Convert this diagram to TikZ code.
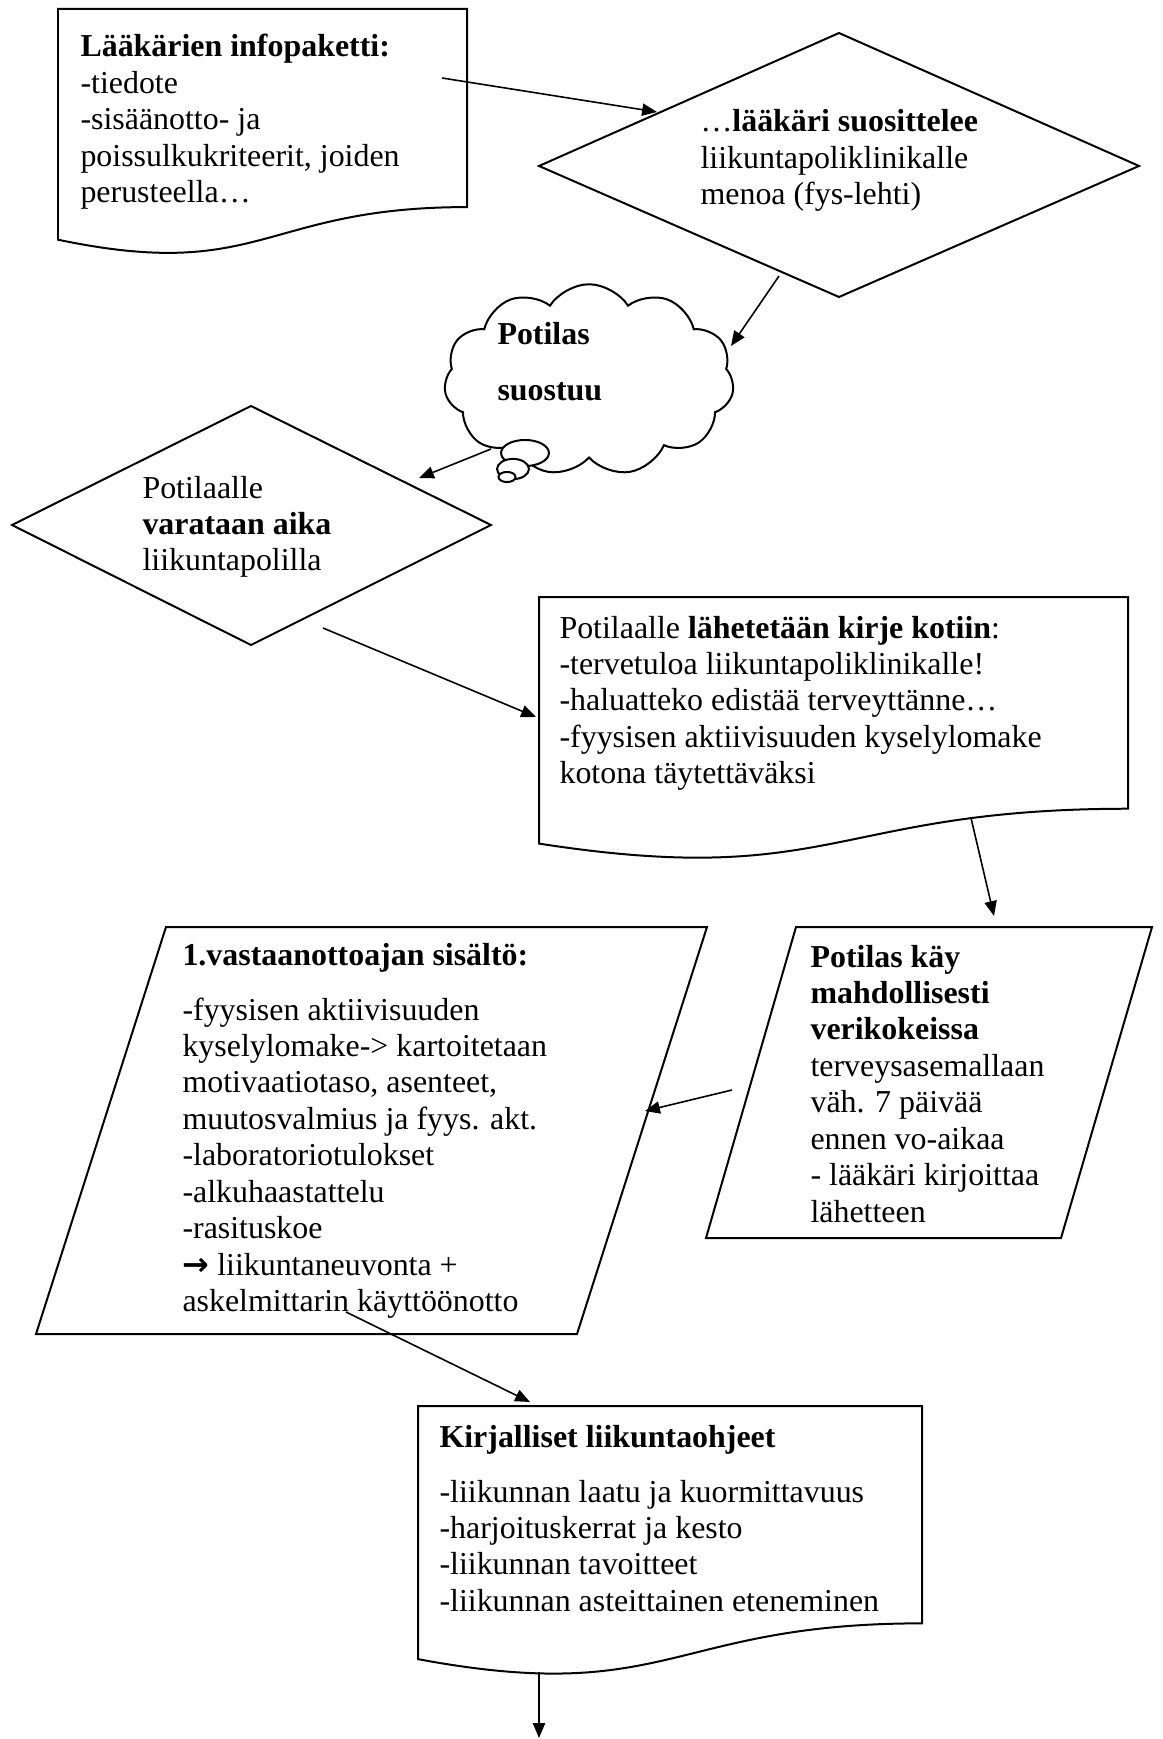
\documentclass[tikz,border=0pt]{standalone}
\usepackage{fontspec}
\setmainfont{Liberation Serif}
\newfontfamily\arrowfont{DejaVu Sans}
\usetikzlibrary{arrows.meta,shapes.symbols,shapes.geometric}
\newcommand\docshape[4]{%
  \draw[shapeline] (#1,#3) -- (#2,#3) -- (#2,{#3+0.802*#4})
    .. controls ({(#1+#2)/2},{#3+0.802*#4}) and ({(#1+#2)/2},{#3+1.1075*#4}) ..
    (#1,{#3+0.934*#4}) -- cycle;}
\begin{document}
\begin{tikzpicture}[x=0.376pt, y=-0.376pt,
  shapeline/.style={draw, line width=0.75pt, line join=miter},
  conn/.style={-{Triangle[length=5.6pt,width=4.6pt]}, line width=0.6pt},
  txt/.style={anchor=base west, inner sep=0pt, font=\fontsize{12pt}{13.7pt}\selectfont},
  bubble/.style={ellipse, draw, fill=white, line width=0.75pt, inner sep=0pt}]
\useasboundingbox (0,0) rectangle (1162,1739);

% --- shapes ---
\docshape{58}{467}{9}{247}
\draw[shapeline] (539,166) -- (839,33) -- (1139,166) -- (839,297) -- cycle;
\node[cloud, draw, line width=0.75pt, cloud puffs=11, cloud puff arc=115, aspect=1.7,
      cloud ignores aspect, minimum width=109pt, minimum height=72pt, inner sep=0pt]
      (cloud) at (589,380) {};
\node[bubble, minimum width=18pt, minimum height=9.8pt] (b1) at (525,453) {};
\node[bubble, minimum width=12pt, minimum height=7.6pt] (b2) at (513,469) {};
\node[bubble, minimum width=6.4pt, minimum height=3.8pt] (b3) at (507,477) {};
\draw[shapeline] (12,525) -- (251,406) -- (491,525) -- (251,645) -- cycle;
\docshape{539}{1128}{597}{264}
\draw[shapeline] (166,927) -- (707,927) -- (577,1334) -- (36,1334) -- cycle;
\draw[shapeline] (796,927) -- (1152,927) -- (1061,1238) -- (706,1238) -- cycle;
\docshape{418}{922}{1406}{271}

% --- texts ---
\node[txt] (t1) at (80,57) {\begin{tabular}[t]{@{}l@{}}
\textbf{Lääkärien infopaketti:}\\
-tiedote\\
-sisäänotto- ja\\
poissulkukriteerit, joiden\\
perusteella…\end{tabular}};

\node[txt] (t2) at (700,132) {\begin{tabular}[t]{@{}l@{}}
…\textbf{lääkäri suosittelee}\\
liikuntapoliklinikalle\\
menoa (fys-lehti)\end{tabular}};

\node[txt] (t3) at (497,345) {\begin{tabular}[t]{@{}l@{}}
\textbf{Potilas}\\[7pt]
\textbf{suostuu}\end{tabular}};

\node[txt] (t4) at (142,498) {\begin{tabular}[t]{@{}l@{}}
Potilaalle\\
\textbf{varataan aika}\\
liikuntapolilla\end{tabular}};

\node[txt] (t5) at (559,638) {\begin{tabular}[t]{@{}l@{}}
Potilaalle \textbf{lähetetään kirje kotiin}:\\
-tervetuloa liikuntapoliklinikalle!\\
-haluatteko edistää terveyttänne…\\
-fyysisen aktiivisuuden kyselylomake\\
kotona täytettäväksi\end{tabular}};

\node[txt] (t6) at (182,965) {\begin{tabular}[t]{@{}l@{}}
\textbf{1.vastaanottoajan sisältö:}\\[7pt]
-fyysisen aktiivisuuden\\
kyselylomake-> kartoitetaan\\
motivaatiotaso, asenteet,\\
muutosvalmius ja fyys. akt.\\
-laboratoriotulokset\\
-alkuhaastattelu\\
-rasituskoe\\
{\arrowfont\bfseries →} liikuntaneuvonta +\\
askelmittarin käyttöönotto\end{tabular}};

\node[txt] (t7) at (810,967) {\begin{tabular}[t]{@{}l@{}}
\textbf{Potilas käy}\\
\textbf{mahdollisesti}\\
\textbf{verikokeissa}\\
terveysasemallaan\\
väh. 7 päivää\\
ennen vo-aikaa\\
- lääkäri kirjoittaa\\
lähetteen\end{tabular}};

\node[txt] (t8) at (439,1447) {\begin{tabular}[t]{@{}l@{}}
\textbf{Kirjalliset liikuntaohjeet}\\[7pt]
-liikunnan laatu ja kuormittavuus\\
-harjoituskerrat ja kesto\\
-liikunnan tavoitteet\\
-liikunnan asteittainen eteneminen\end{tabular}};

% --- connector end points ---
\coordinate (a1s) at (442,78);   \coordinate (a1e) at (657,112);
\coordinate (a2s) at (779,276);  \coordinate (a2e) at (731,346);
\coordinate (a3s) at (491,449);  \coordinate (a3e) at (419,478);
\coordinate (a4s) at (323,628);  \coordinate (a4e) at (536,717);
\coordinate (a5s) at (971,818);  \coordinate (a5e) at (994,916);
\coordinate (a6s) at (732,1090); \coordinate (a6e) at (645,1111);
\coordinate (a7s) at (346,1312); \coordinate (a7e) at (530,1402);
\coordinate (a8s) at (539,1672); \coordinate (a8e) at (539,1738);

\draw[conn] (a1s) -- (a1e);
\draw[conn] (a2s) -- (a2e);
\draw[conn] (a3s) -- (a3e);
\draw[conn] (a4s) -- (a4e);
\draw[conn] (a5s) -- (a5e);
\draw[conn] (a6s) -- (a6e);
\draw[conn] (a7s) -- (a7e);
\draw[conn] (a8s) -- (a8e);
\end{tikzpicture}
\end{document}
